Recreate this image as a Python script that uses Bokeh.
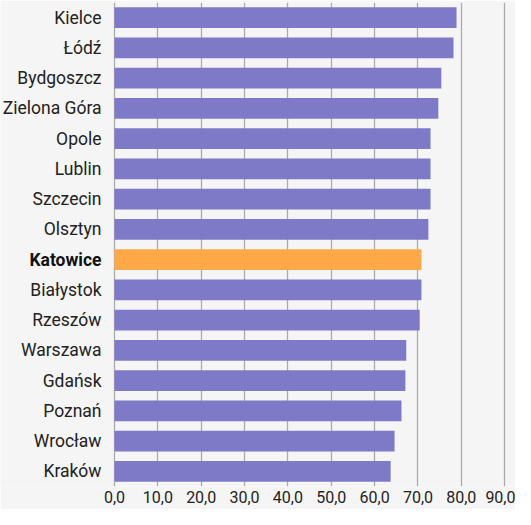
from bokeh.plotting import figure
from bokeh.models import FactorRange, Range1d, FixedTicker, ColumnDataSource
from bokeh.core.properties import value
from bokeh.embed import file_html
from bokeh.resources import INLINE

cities = ["Kielce", "Łódź", "Bydgoszcz", "Zielona Góra", "Opole", "Lublin",
          "Szczecin", "Olsztyn", "Katowice", "Białystok", "Rzeszów", "Warszawa",
          "Gdańsk", "Poznań", "Wrocław", "Kraków"]
values = [78.9, 78.2, 75.4, 74.7, 72.9, 72.9, 72.9, 72.4, 70.8, 70.8, 70.4,
          67.3, 67.1, 66.2, 64.6, 63.7]
highlight = "Katowice"
tick_values = [0, 10, 20, 30, 40, 50, 60, 70, 80, 90]
tick_labels = ["0,0", "10,0", "20,0", "30,0", "40,0", "50,0", "60,0", "70,0", "80,0", "90,0"]

PURPLE = "#7f7ac8"
ORANGE = "#ffa847"
BG = "#f5f5f5"
FONT = "Roboto"

colors = [ORANGE if c == highlight else PURPLE for c in cities]
weights = ["bold" if c == highlight else "normal" for c in cities]
tcolors = ["#111111" if c == highlight else "#222222" for c in cities]
zeros = [0] * len(cities)
src = ColumnDataSource(dict(city=cities, value=values, color=colors,
                            weight=weights, tcolor=tcolors, zero=zeros))

W, H = 515, 509
LEFT_PX = 114          # pixel position of the value 0 inside the figure
X_END = 92.5
x_start = -LEFT_PX * X_END / (W - LEFT_PX)

factors = list(reversed(cities))
p = figure(width=W, height=H, output_backend="svg", toolbar_location=None,
           y_range=FactorRange(*factors), x_range=Range1d(x_start, X_END),
           min_border_left=0, min_border_right=0, min_border_top=2,
           min_border_bottom=23)
p.background_fill_color = BG
p.border_fill_color = BG
p.outline_line_color = None

p.hbar(y="city", right="value", left=0, height=0.69, color="color",
       line_color=None, source=src)

p.text(x="zero", y="city", text="city", source=src, x_offset=-13,
       text_align="right", text_baseline="middle",
       text_font=value(FONT), text_font_size=value("17.5px"),
       text_font_style="weight", text_color="tcolor")

p.xgrid.ticker = FixedTicker(ticks=tick_values)
p.xgrid.grid_line_color = "#ababab"
p.xgrid.grid_line_width = 1.3
p.ygrid.grid_line_color = None

p.xaxis.ticker = FixedTicker(ticks=tick_values)
p.xaxis.major_label_overrides = {v: t for v, t in zip(tick_values, tick_labels)}
p.xaxis.axis_line_color = None
p.xaxis.major_tick_line_color = None
p.xaxis.minor_tick_line_color = None
p.xaxis.major_tick_out = 0
p.xaxis.major_label_standoff = 4
p.xaxis.major_label_text_font = FONT
p.xaxis.major_label_text_font_size = "16px"
p.xaxis.major_label_text_color = "#222222"

p.yaxis.visible = False

open("out.html", "w").write(file_html(p, INLINE))
